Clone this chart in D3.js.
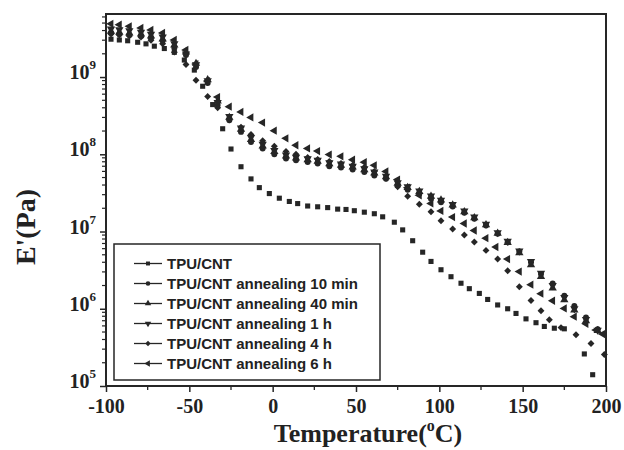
<!DOCTYPE html>
<html>
<head>
<meta charset="utf-8">
<script src="https://cdn.jsdelivr.net/npm/d3@7"></script>
<style>
  body { margin: 0; background: #fff; }
  text { fill: #222; }
</style>
</head>
<body>
<svg id="chart" width="624" height="450"></svg>
<script>
// Storage modulus E' (Pa) versus temperature (°C) for TPU/CNT samples

const seriesNames = [
  "TPU/CNT",
  "TPU/CNT annealing 10 min",
  "TPU/CNT annealing 40 min",
  "TPU/CNT annealing 1 h",
  "TPU/CNT annealing 4 h",
  "TPU/CNT annealing 6 h"
];

const tempTPU = [-97, -92, -87, -81, -76, -71, -65, -59, -53, -47, -42, -36, -30, -25, -19, -13, -8, -2, 4, 10,
  15, 21, 27, 33, 39, 44, 49, 55, 61, 66, 73, 78, 84, 90, 95, 101, 107, 113, 118, 124,
  129, 135, 141, 146, 152, 158, 163, 169, 175, 187, 192];
const modTPU = [3.09e9, 3.02e9, 2.95e9, 2.82e9, 2.69e9, 2.51e9, 2.34e9, 2.09e9, 1.66e9, 1.23e9, 7.6e8, 4.4e8, 2.14e8, 1.17e8, 6.9e7, 4.8e7, 3.7e7, 3.1e7, 2.7e7, 2.45e7,
  2.3e7, 2.14e7, 2.09e7, 2.04e7, 1.95e7, 1.93e7, 1.86e7, 1.78e7, 1.7e7, 1.55e7, 1.32e7, 1.05e7, 7.6e6, 5.4e6, 4.1e6, 3.2e6, 2.6e6, 2.14e6, 1.82e6, 1.58e6,
  1.32e6, 1.12e6, 1.0e6, 8.7e5, 7.4e5, 6.6e5, 5.9e5, 5.6e5, 5.5e5, 2.6e5, 1.4e5];

// shared temperature steps of the annealed samples
const tempAnneal = [-97, -92, -86, -79, -73, -66, -59, -52, -46, -39, -33, -26, -19, -13, -6, 1, 8, 14, 21, 27,
  34, 41, 48, 55, 61, 68, 75, 81, 88, 95, 101, 108, 115, 121, 128, 135, 141, 148, 155, 161,
  168, 175, 181, 188, 195];

const mod10min = [3.73e9, 3.61e9, 3.51e9, 3.41e9, 3.21e9, 2.94e9, 2.38e9, 1.93e9, 1.35e9, 8.36e8, 4.33e8, 2.76e8, 1.95e8, 1.44e8, 1.19e8, 1.0e8, 8.8e7, 8.36e7, 7.94e7, 7.57e7,
  6.98e7, 6.72e7, 6.33e7, 5.89e7, 5.33e7, 4.83e7, 3.95e7, 3.48e7, 3.09e7, 2.66e7, 2.4e7, 2.11e7, 1.75e7, 1.46e7, 1.2e7, 9.33e6, 7.26e6, 5.5e6, 3.99e6, 2.82e6,
  2.13e6, 1.48e6, 1.09e6, 7.71e5, 5.45e5];

const mod40min = [3.9e9, 3.8e9, 3.7e9, 3.6e9, 3.4e9, 3.1e9, 2.6e9, 2.1e9, 1.5e9, 9.2e8, 4.9e8, 3.0e8, 2.1e8, 1.55e8, 1.28e8, 1.08e8, 9.5e7, 8.9e7, 8.5e7, 8.1e7,
  7.5e7, 7.2e7, 6.8e7, 6.3e7, 5.7e7, 5.1e7, 4.2e7, 3.7e7, 3.3e7, 2.85e7, 2.55e7, 2.2e7, 1.8e7, 1.5e7, 1.22e7, 9.5e6, 7.2e6, 5.3e6, 3.7e6, 2.6e6,
  1.85e6, 1.3e6, 9.6e5, 7.0e5, 5.2e5];

const mod1h = [4.2e9, 4.1e9, 4.0e9, 3.8e9, 3.6e9, 3.3e9, 2.7e9, 2.0e9, 1.45e9, 9.0e8, 4.7e8, 3.1e8, 2.2e8, 1.65e8, 1.35e8, 1.12e8, 9.8e7, 9.2e7, 8.8e7, 8.4e7,
  7.8e7, 7.5e7, 7.0e7, 6.5e7, 5.9e7, 5.2e7, 4.3e7, 3.8e7, 3.35e7, 2.9e7, 2.55e7, 2.25e7, 1.85e7, 1.55e7, 1.25e7, 9.7e6, 7.5e6, 5.6e6, 4.1e6, 2.9e6,
  2.0e6, 1.4e6, 1.0e6, 7.3e5, 5.3e5];

const temp4h = [-97, -92, -86, -79, -73, -66, -59, -52, -46, -39, -33, -26, -19, -13, -6, 1, 8, 14, 21, 27,
  34, 41, 48, 55, 61, 68, 75, 81, 88, 95, 101, 108, 115, 121, 128, 135, 141, 148, 155, 161,
  166, 173, 182, 191, 199];
const mod4h = [3.61e9, 3.51e9, 3.41e9, 3.3e9, 3.0e9, 2.7e9, 2.1e9, 1.45e9, 9.1e8, 5.6e8, 4.0e8, 2.8e8, 2.24e8, 1.8e8, 1.5e8, 1.27e8, 1.09e8, 1.0e8, 9.1e7, 8.6e7,
  8.1e7, 7.6e7, 7.2e7, 6.8e7, 6.0e7, 4.9e7, 3.8e7, 2.86e7, 2.25e7, 1.8e7, 1.38e7, 1.08e7, 9.0e6, 7.3e6, 5.7e6, 4.4e6, 3.1e6, 1.93e6, 1.28e6, 9.4e5,
  7.2e5, 5.7e5, 4.6e5, 3.55e5, 2.56e5];

const temp6h = [-97, -92, -86, -79, -73, -66, -59, -52, -46, -39, -33, -26, -19, -13, -6, 1, 8, 14, 21, 27,
  34, 41, 48, 55, 61, 68, 75, 81, 88, 95, 101, 108, 115, 121, 128, 134, 141, 148, 155, 161,
  168, 175, 181, 188, 194, 198];
const mod6h = [4.88e9, 4.77e9, 4.53e9, 4.33e9, 4.07e9, 3.73e9, 3.02e9, 2.24e9, 1.47e9, 8.87e8, 5.5e8, 4.14e8, 3.54e8, 3.0e8, 2.57e8, 2.02e8, 1.61e8, 1.31e8, 1.19e8, 1.1e8,
  9.9e7, 9.4e7, 8.5e7, 7.9e7, 7.2e7, 6.0e7, 4.7e7, 3.7e7, 2.94e7, 2.31e7, 1.85e7, 1.54e7, 1.27e7, 1.03e7, 8.2e6, 6.3e6, 4.4e6, 3.03e6, 2.05e6, 1.57e6,
  1.27e6, 1.01e6, 7.9e5, 6.4e5, 5.3e5, 4.7e5];

const xTicks = [-100, -50, 0, 50, 100, 150, 200];
const yTicks = [1e5, 1e6, 1e7, 1e8, 1e9];

const series = [
  { name: seriesNames[0], temps: tempTPU,    mods: modTPU,   shape: "square" },
  { name: seriesNames[1], temps: tempAnneal, mods: mod10min, shape: "circle" },
  { name: seriesNames[2], temps: tempAnneal, mods: mod40min, shape: "up" },
  { name: seriesNames[3], temps: tempAnneal, mods: mod1h,    shape: "down" },
  { name: seriesNames[4], temps: temp4h,     mods: mod4h,    shape: "diamond" },
  { name: seriesNames[5], temps: temp6h,     mods: mod6h,    shape: "left" }
];

const ink = "#262626";
const svg = d3.select("#chart");

const x = d3.scaleLinear().domain([-100, 200]).range([106, 606]);
const y = d3.scaleLog().domain([1e5, 6.55e9]).range([386, 14]);

// marker drawing: d3 symbol + rotation
function markerPath(shape, scale) {
  const s = scale || 1;
  switch (shape) {
    case "square":  return { d: d3.symbol(d3.symbolSquare, 26 * s)(), rot: 0 };
    case "circle":  return { d: d3.symbol(d3.symbolCircle, 28 * s)(), rot: 0 };
    case "up":      return { d: d3.symbol(d3.symbolTriangle, 30 * s)(), rot: 0 };
    case "down":    return { d: d3.symbol(d3.symbolTriangle, 30 * s)(), rot: 180 };
    case "diamond": return { d: d3.symbol(d3.symbolSquare, 24 * s)(), rot: 45 };
    case "left":    return { d: d3.symbol(d3.symbolTriangle, 30 * s)(), rot: -90 };
  }
}

// plot points
const plot = svg.append("g");
series.forEach(s => {
  const m = markerPath(s.shape);
  const pts = s.temps.map((t, i) => ({ t, e: s.mods[i] }));
  plot.append("g").selectAll("path").data(pts).join("path")
    .attr("d", m.d)
    .attr("transform", d => `translate(${x(d.t)},${y(d.e)}) rotate(${m.rot})`)
    .attr("fill", ink);
});

// frame
svg.append("rect")
  .attr("x", 106).attr("y", 14).attr("width", 500).attr("height", 372)
  .attr("fill", "none").attr("stroke", ink).attr("stroke-width", 2);

// x axis
const xAxis = svg.append("g").attr("transform", "translate(0,386)")
  .call(d3.axisBottom(x).tickValues(xTicks).tickSize(6).tickPadding(7).tickFormat(d => String(d)));
xAxis.select(".domain").remove();
xAxis.selectAll("line").attr("stroke", ink).attr("stroke-width", 1.5);
xAxis.selectAll("text")
  .style("font-family", "'Liberation Serif', 'Times New Roman', serif")
  .style("font-weight", "bold").style("font-size", "20px").attr("fill", ink);

const xMinor = d3.range(-75, 200, 50);
svg.append("g").selectAll("line").data(xMinor).join("line")
  .attr("x1", d => x(d)).attr("x2", d => x(d))
  .attr("y1", 386).attr("y2", 390)
  .attr("stroke", ink).attr("stroke-width", 1.3);

// y axis
const yAxis = svg.append("g").attr("transform", "translate(106,0)")
  .call(d3.axisLeft(y).tickValues(yTicks).tickSize(6).tickFormat(""));
yAxis.select(".domain").remove();
yAxis.selectAll("line").attr("stroke", ink).attr("stroke-width", 1.5);

const yMinor = [];
[1e5, 1e6, 1e7, 1e8, 1e9].forEach(dec => {
  for (let k = 2; k <= 9; k++) {
    const v = dec * k;
    if (v <= 6.55e9) yMinor.push(v);
  }
});
svg.append("g").selectAll("line").data(yMinor).join("line")
  .attr("x1", 106).attr("x2", 102)
  .attr("y1", d => y(d)).attr("y2", d => y(d))
  .attr("stroke", ink).attr("stroke-width", 1.2);

const yLabels = svg.append("g")
  .style("font-family", "'Liberation Serif', 'Times New Roman', serif")
  .style("font-weight", "bold");
yTicks.forEach(v => {
  const t = yLabels.append("text")
    .attr("x", 96).attr("y", y(v) + 2)
    .attr("text-anchor", "end")
    .style("font-size", "20px");
  t.append("tspan").text("10");
  t.append("tspan").attr("dy", -10).style("font-size", "13px").text(String(Math.round(Math.log10(v))));
});

// axis titles
svg.append("text")
  .attr("transform", "translate(35,227) rotate(-90)")
  .attr("text-anchor", "middle")
  .style("font-family", "'Liberation Serif', 'Times New Roman', serif")
  .style("font-weight", "bold").style("font-size", "28px")
  .text("E'(Pa)");

const xt = svg.append("text")
  .attr("x", 368).attr("y", 442)
  .attr("text-anchor", "middle")
  .style("font-family", "'Liberation Serif', 'Times New Roman', serif")
  .style("font-weight", "bold").style("font-size", "26px");
xt.append("tspan").text("Temperature(");
xt.append("tspan").attr("dy", -11).style("font-size", "16px").text("o");
xt.append("tspan").attr("dy", 11).text("C)");

// legend
const lg = svg.append("g");
lg.append("rect")
  .attr("x", 114).attr("y", 244).attr("width", 266).attr("height", 136)
  .attr("fill", "#fff").attr("stroke", ink).attr("stroke-width", 1.5);
series.forEach((s, i) => {
  const cy = 263.5 + i * 20;
  lg.append("line").attr("x1", 134).attr("x2", 162).attr("y1", cy).attr("y2", cy)
    .attr("stroke", ink).attr("stroke-width", 1.3);
  const m = markerPath(s.shape, 0.6);
  lg.append("path").attr("d", m.d)
    .attr("transform", `translate(148,${cy}) rotate(${m.rot})`)
    .attr("fill", ink);
  lg.append("text").attr("x", 167).attr("y", cy).attr("dy", "0.36em")
    .style("font-family", "'Liberation Sans', Arial, sans-serif")
    .style("font-weight", "bold").style("font-size", "15px")
    .text(s.name);
});
</script>
</body>
</html>
